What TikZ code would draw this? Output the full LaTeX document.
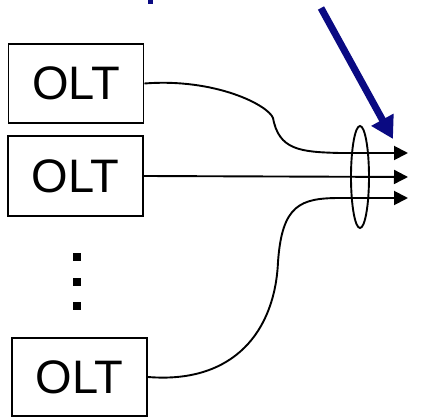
\documentclass[tikz,border=0pt]{standalone}
\usepackage{fontspec}
\setmainfont{Liberation Sans}
\usetikzlibrary{arrows.meta,shapes.geometric}
\definecolor{pointcolor}{RGB}{10,10,130}
\def\lw{1.9pt}
\tikzset{
  olt/.style={draw, line width=\lw, minimum width=135pt, minimum height=80pt,
    inner sep=0pt, font=\fontsize{47}{50}\selectfont},
  fibre/.style={line width=\lw, -{Triangle[length=14pt,width=14pt]}},
}
\begin{document}
\begin{tikzpicture}[x=1pt, y=-1pt]
  \useasboundingbox (0,0) rectangle (421,417);

  % the three line terminals
  \node[olt, minimum height=79pt](olta) at (76,83.5){OLT};
  \node[olt](oltb) at (75.5,176){OLT};
  \node[olt, minimum height=78pt](oltc) at (79.5,377){OLT};

  % vertical dots between the terminals
  \foreach \y in {257,282,306}
    \fill (73,\y-4) rectangle (81,\y+4);

  % fibre ends
  \coordinate (enda) at (408,153);
  \coordinate (endb) at (408,177);
  \coordinate (endc) at (408,198);

  % fibres
  \draw[fibre] (olta.east) .. controls (215,78) and (268,105) .. (273,118)
    .. controls (279,150) and (300,152) .. (340,153) -- (enda);
  \draw[fibre] (oltb.east) -- (endb);
  \draw[fibre] (oltc.east) .. controls (235,384) and (275,330) .. (278,262)
    .. controls (282,205) and (300,198) .. (340,198) -- (endc);

  % bundle
  \node[draw, ellipse, line width=\lw, minimum width=18pt, minimum height=102pt,
    inner sep=0pt](bundle) at (360,177){};

  % pointer
  \coordinate (tail) at (321,8);
  \coordinate (tip) at (393,139);
  \draw[pointcolor, line width=7pt, -{Triangle[length=22pt,width=24pt]}] (tail) -- (tip);
  \fill[pointcolor] (148,0) rectangle (153,4);
\end{tikzpicture}
\end{document}
